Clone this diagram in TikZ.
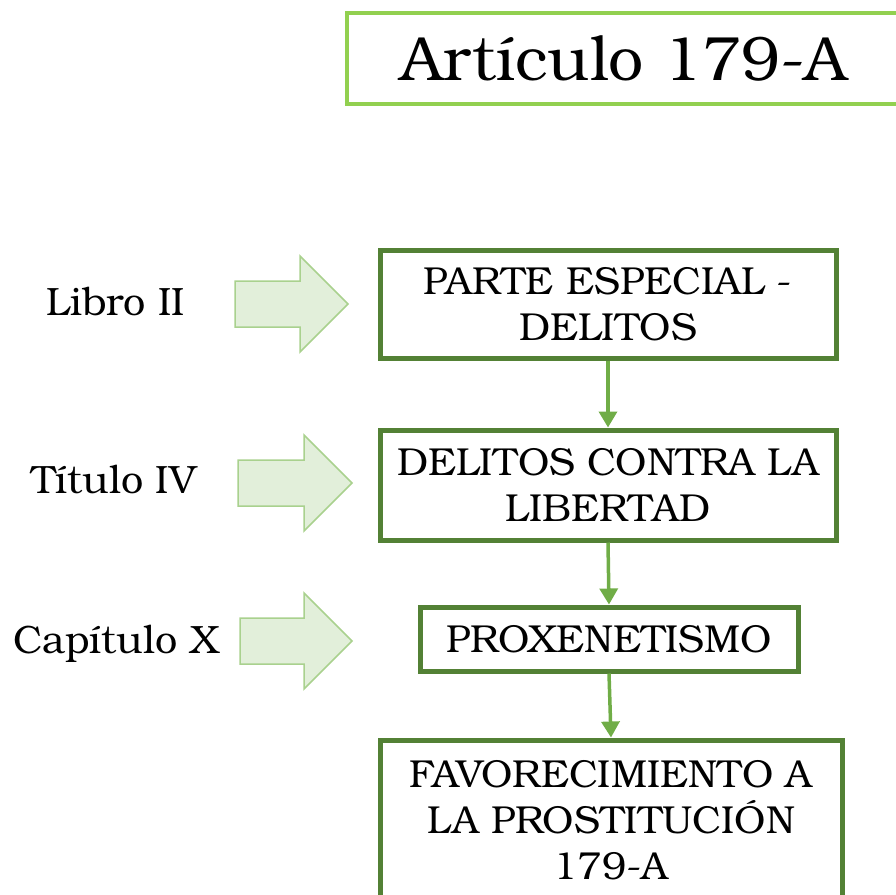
\documentclass[tikz,border=0pt]{standalone}
\usepackage{fontspec}
\setmainfont{TeX Gyre Bonum}
\usetikzlibrary{arrows.meta,positioning}
\definecolor{titlegreen}{HTML}{92D050}
\definecolor{boxgreen}{HTML}{538135}
\definecolor{linkgreen}{HTML}{70AD47}
\definecolor{blockfill}{HTML}{E2EFDA}
\definecolor{blockline}{HTML}{A9D18E}
\tikzset{
    title box/.style={draw=titlegreen,line width=4pt,inner sep=0pt,font=\fontsize{62.5}{70}\selectfont},
    level box/.style={draw=boxgreen,line width=5pt,align=center,inner sep=0pt,font=\fontsize{39}{46}\selectfont},
    side label/.style={anchor=base,inner sep=0pt,font=\fontsize{39.5}{46}\selectfont},
    arr/.style={-{Triangle[length=16pt,width=18pt]},draw=linkgreen,line width=3.5pt},
    block arrow/.style={draw=blockline,fill=blockfill,line width=1.5pt,line join=miter},
}

\begin{document}
\begin{tikzpicture}[x=1pt,y=-1pt]
    \useasboundingbox (0,0) rectangle (896,894);

    \node[title box,minimum width=554pt,minimum height=91pt] (titulo) at (624,58.5) {Artículo 179-A};

    \node[level box,minimum width=456pt,minimum height=108pt] (parte) at (608,304) {PARTE ESPECIAL -\\DELITOS};
    \node[level box,minimum width=456pt,minimum height=110pt] (libertad) at (608,485) {DELITOS CONTRA LA\\LIBERTAD};
    \node[level box,minimum width=378pt,minimum height=64pt] (proxen) at (609,639) {PROXENETISMO};
    \node[level box,minimum width=462pt,minimum height=160pt] (favor) at (611,820) {FAVORECIMIENTO A\\LA PROSTITUCIÓN\\179-A};

    \draw[arr] (parte.south) -- (libertad.north);
    \draw[arr] (libertad.south) -- (proxen.north);
    \draw[arr] (proxen.south) -- (favor.north);

    % block arrows with their labels
    \foreach \tail/\tip/\cy/\lx/\ly/\name/\txt in {
        235/348/304/116/315/libro/Libro II,
        238/352/483/114/493/titulo/Título IV,
        240/352/641/116/653/capitulo/Capítulo X}{
        \node[side label] (lab-\name) at (\lx,\ly) {\txt};
        \draw[block arrow] (\tail,\cy-23) -- (\tip-48,\cy-23) -- (\tip-48,\cy-48)
            -- (\tip,\cy) -- (\tip-48,\cy+48) -- (\tip-48,\cy+23) -- (\tail,\cy+23) -- cycle;
    }
\end{tikzpicture}
\end{document}
